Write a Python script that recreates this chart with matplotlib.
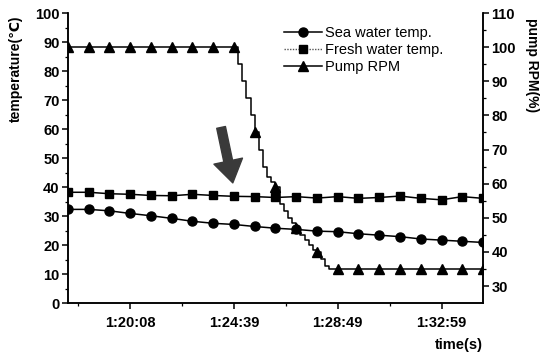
import numpy as np
import matplotlib
matplotlib.use('Agg')
import matplotlib.pyplot as plt
from matplotlib.lines import Line2D

plt.rcParams['font.family'] = ['Liberation Sans', 'DejaVu Sans']

# sample index (one marker per index), time labels at some of them
idx = list(range(21))
tick_pos = [3, 8, 13, 18]
tick_labels = ['1:20:08', '1:24:39', '1:28:49', '1:32:59']

sea_temp = [32.3, 32.3, 31.8, 30.9, 30.1, 29.2, 28.2, 27.5, 27.1, 26.4, 25.8,
            25.4, 24.8, 24.6, 23.9, 23.4, 22.9, 22.1, 21.7, 21.3, 20.9]
fresh_temp = [38.2, 38.2, 37.7, 37.5, 37.1, 37.0, 37.5, 37.1, 36.8, 36.7, 36.4,
              36.7, 36.2, 36.7, 36.1, 36.4, 36.9, 36.1, 35.6, 36.7, 36.1]

# pump rpm, stepped line (fine samples) and marker values
rpm_t = [0, 8.0, 8.2, 8.4, 8.6, 8.8, 9.0, 9.2, 9.4, 9.6, 9.8, 10.0, 10.2, 10.4,
         10.6, 10.8, 11.0, 11.2, 11.4, 11.6, 11.8, 12.0, 12.2, 12.4, 12.6, 20]
rpm_step = [100, 100, 95, 90, 85, 80, 75, 70, 65, 62, 60.5, 59, 54, 52,
            50, 48.5, 47, 45, 43.5, 42, 40.5, 40, 38, 36, 35, 35]
rpm_mark = [100, 100, 100, 100, 100, 100, 100, 100, 100, 75, 59, 47, 40,
            35, 35, 35, 35, 35, 35, 35, 35]

fig = plt.figure(figsize=(5.47, 3.52), dpi=100)
ax = fig.add_axes([0.1243, 0.139, 0.7587, 0.824])
ax2 = ax.twinx()

ax.plot(idx, sea_temp, 'k-', marker='o', ms=6.5, lw=1.1)
ax.plot(idx, fresh_temp, 'k-', marker='s', ms=5.5, lw=1.1)
ax2.plot(rpm_t, rpm_step, 'k-', lw=1.1, drawstyle='steps-post')
ax2.plot(idx, rpm_mark, 'k^', ms=7.5)

ax.set_xlim(0, 20)
ax.set_ylim(0, 100)
ax2.set_ylim(25, 110)

ax.set_xticks(tick_pos)
ax.set_xticklabels(tick_labels)
ax.set_xticks(np.arange(0.5, 20, 2.5), minor=True)
ax.set_yticks(range(0, 101, 10))
ax.set_yticks(range(5, 100, 10), minor=True)
ax2.set_yticks(range(30, 111, 10))
ax2.set_yticks(range(35, 110, 10), minor=True)

for a in (ax, ax2):
    a.spines['top'].set_visible(False)
    for s in a.spines.values():
        s.set_linewidth(1.1)
    a.tick_params(which='major', direction='out', length=4, width=1.1,
                  labelsize=10.5, pad=2)
    a.tick_params(which='minor', direction='out', length=2, width=0.9)
    for lab in a.get_xticklabels() + a.get_yticklabels():
        lab.set_fontweight('bold')
ax.tick_params(axis='x', which='major', pad=5)

ax.set_ylabel('temperature(\u2103)', fontsize=10, fontweight='bold')
ax.yaxis.set_label_coords(-0.108, 0.807)
ax2.set_ylabel('pump RPM(%)', fontsize=10, fontweight='bold', rotation=270,
               va='bottom')
ax2.yaxis.set_label_coords(1.10, 0.82)
ax.text(0.942, -0.145, 'time(s)', transform=ax.transAxes, fontsize=10.5,
        fontweight='bold', ha='center', va='center')

# arrow pointing at the moment the pump starts slowing down
ax.annotate('', xy=(7.97, 40.5), xytext=(7.35, 61.5),
            arrowprops=dict(arrowstyle='simple,head_length=0.8,head_width=1.05,tail_width=0.32',
                            color='#3a3a3a', mutation_scale=20))

handles = [
    Line2D([], [], color='k', lw=1.1, marker='o', ms=6.5),
    Line2D([], [], color='#555555', lw=1.0, ls=(0, (1, 1)), marker='s', ms=5.5,
           mfc='k', mec='k'),
    Line2D([], [], color='k', lw=1.1, marker='^', ms=7.5),
]
ax.legend(handles, ['Sea water temp.', 'Fresh water temp.', 'Pump RPM'],
          loc='upper left', bbox_to_anchor=(0.497, 0.99), frameon=False,
          fontsize=10.5, handlelength=2.6, handletextpad=0.2,
          labelspacing=0.2, borderpad=0.2)

fig.savefig('out.png', dpi=100)
